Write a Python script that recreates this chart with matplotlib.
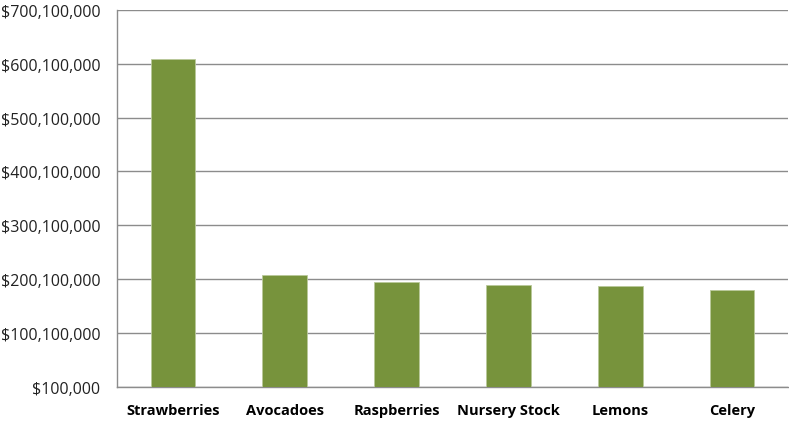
import matplotlib.pyplot as plt
from matplotlib.ticker import FuncFormatter

# Top crops by value, in dollars
crops = ["Strawberries", "Avocadoes", "Raspberries", "Nursery Stock", "Lemons", "Celery"]
values = [608600000, 207800000, 195300000, 188600000, 186700000, 179900000]
ticks = [100000 + k * 100000000 for k in range(8)]

plt.rcParams['font.family'] = ['Open Sans', 'DejaVu Sans']

fig = plt.figure(figsize=(7.89, 4.27), dpi=100)
ax = fig.add_axes([117 / 789, 1 - 387.7 / 427, (788 - 117) / 789, (387.7 - 11) / 427])

x = range(len(crops))
ax.bar(x, values, width=0.40, color='#77933C', zorder=3,
       edgecolor='#b9c99a', linewidth=0.6)

ax.set_ylim(ticks[0], ticks[-1])
ax.set_xlim(-0.5, len(crops) - 0.5)
ax.set_yticks(ticks)
ax.yaxis.set_major_formatter(FuncFormatter(lambda v, p: "${:,.0f}".format(v)))
ax.set_xticks(list(x))
ax.set_xticklabels(crops, fontweight='bold', fontsize=10.5)
ax.tick_params(axis='y', length=0, labelsize=11.5, pad=12, labelcolor='#222222')
ax.tick_params(axis='x', length=0, pad=12)

ax.grid(axis='y', color='#8c8c8c', linewidth=1.0, zorder=0)
for side in ['top', 'right']:
    ax.spines[side].set_visible(False)
for side in ['left', 'bottom']:
    ax.spines[side].set_color('#8c8c8c')
    ax.spines[side].set_linewidth(1.0)

fig.savefig('out.png', dpi=100)
